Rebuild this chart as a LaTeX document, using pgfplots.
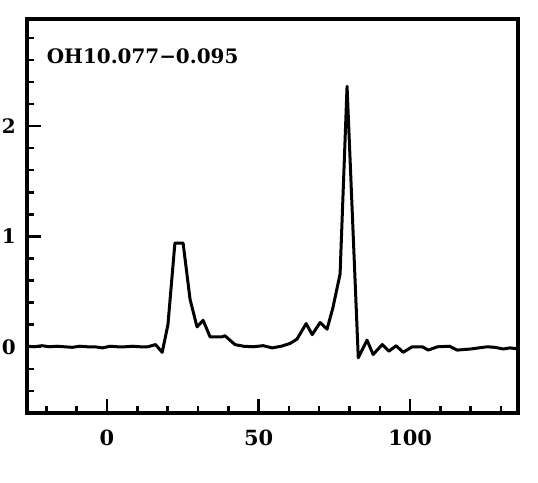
\documentclass[border=0pt]{standalone}
\usepackage{fontspec}
\setmainfont{DejaVu Serif}
\usepackage{pgfplots}
\pgfplotsset{compat=1.18}
\begin{document}
\begin{tikzpicture}
\begin{axis}[
  name=ax,
  at={(0,0)}, anchor=south west,
  scale only axis,
  width=491bp, height=394bp,
  xmin=-26.4, xmax=135.6,
  ymin=-0.6, ymax=2.97,
  axis line style={line width=3.5bp},
  tick pos=left,
  tick align=inside,
  xtick={0,50,100},
  ytick={0,1,2},
  minor xtick={-20,-10,10,20,30,40,60,70,80,90,110,120,130},
  minor ytick={-0.4,-0.2,0.2,0.4,0.6,0.8,1.2,1.4,1.6,1.8,2.2,2.4,2.6,2.8},
  major tick length=14bp,
  minor tick length=7bp,
  every tick/.style={line width=2.5bp, black},
  /pgf/number format/assume math mode=true,
  ticklabel style={font=\bfseries\fontsize{20}{20}\selectfont},
  yticklabel style={inner sep=0pt, anchor=east, xshift=-11bp},
  xticklabel style={inner sep=0pt, anchor=north, yshift=-17bp, font=\bfseries\fontsize{21}{21}\selectfont},
  clip=true,
]
\addplot[black, line width=3bp, line join=round] coordinates {
(-26.4,0.005) (-24,0.0) (-21.5,0.01) (-19,0.0) (-16.5,0.005) (-14,0.0)
(-11.5,-0.005) (-9,0.005) (-6.5,0.0) (-4,0.0) (-1.5,-0.01) (1,0.005)
(3.5,0.0) (6,0.0) (8.5,0.005) (11,0.0) (13.5,0.0) (16,0.02)
(18.2,-0.05) (20.1,0.2) (22.4,0.94) (25.1,0.94) (27.4,0.43) (29.7,0.18)
(31.7,0.24) (34,0.09) (36,0.09) (37.9,0.09) (38.9,0.10) (42.2,0.02)
(45,0.005) (48.2,0.0) (51.5,0.01) (54.5,-0.01) (57.5,0.005) (60.4,0.03)
(62.7,0.07) (65.7,0.21) (67.7,0.11) (70.3,0.22) (72.6,0.16) (74.5,0.35)
(76.9,0.66) (79.2,2.36) (82.9,-0.1) (85.8,0.06) (87.8,-0.07) (90.8,0.02)
(93,-0.04) (95.4,0.01) (97.7,-0.05) (100.7,0.0) (104,0.0) (106,-0.03)
(109,0.0) (113,0.005) (115.5,-0.03) (120,-0.02) (125.4,0.0) (128,-0.005)
(130.7,-0.02) (133,-0.01) (135.6,-0.02)
};
\node[anchor=west, inner sep=0pt, font=\bfseries\fontsize{20}{20}\selectfont]
  at (rel axis cs:0.04,0.906) {OH10.077−0.095};
\end{axis}
\pgfresetboundingbox
\path[use as bounding box] (-27bp,-70bp) rectangle (511bp,413bp);
\end{tikzpicture}
\end{document}
